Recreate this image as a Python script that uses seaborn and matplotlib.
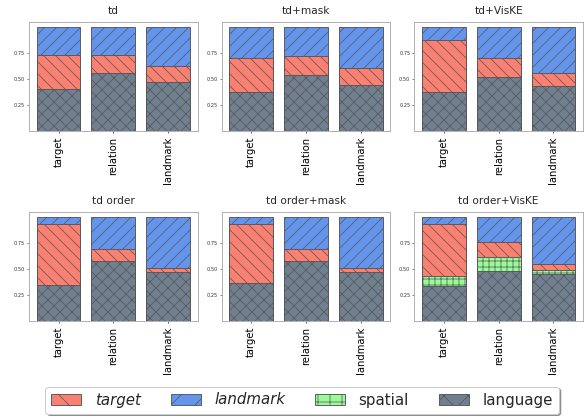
import matplotlib
matplotlib.use("Agg")
import matplotlib.pyplot as plt
from matplotlib.patches import Patch
import seaborn as sns
import pandas as pd

# panels and bar categories
panels = ["td", "td+mask", "td+VisKE", "td order", "td order+mask", "td order+VisKE"]
categories = ["target", "relation", "landmark"]

# share of each component per bar (landmark is the remainder up to 1)
language = [
    [0.41, 0.56, 0.47],
    [0.38, 0.54, 0.44],
    [0.38, 0.52, 0.43],
    [0.35, 0.58, 0.47],
    [0.37, 0.58, 0.47],
    [0.34, 0.48, 0.45],
]
spatial = [
    [0.0, 0.0, 0.0],
    [0.0, 0.0, 0.0],
    [0.0, 0.0, 0.0],
    [0.0, 0.0, 0.0],
    [0.0, 0.0, 0.0],
    [0.09, 0.14, 0.04],
]
target = [
    [0.32, 0.17, 0.16],
    [0.32, 0.18, 0.17],
    [0.50, 0.18, 0.13],
    [0.59, 0.11, 0.04],
    [0.57, 0.11, 0.04],
    [0.51, 0.14, 0.06],
]

colors = {"target": "salmon", "landmark": "cornflowerblue",
          "spatial": "palegreen", "language": "slategray"}
hatches = {"target": "\\\\", "landmark": "//", "spatial": "++", "language": "xx"}
legend_hatches = {"target": "\\", "landmark": "/", "spatial": "+", "language": "x"}
edge = "#555555"

sns.set_style("white", {"axes.edgecolor": "#a0a0a0", "xtick.bottom": True,
                        "ytick.left": True, "xtick.color": "black",
                        "ytick.color": "#333333"})
plt.rcParams["font.family"] = ["DejaVu Sans"]
plt.rcParams["hatch.linewidth"] = 0.7

fig, axes = plt.subplots(2, 3, figsize=(586 / 72, 417 / 72), dpi=72)
fig.subplots_adjust(left=0.0495, right=0.995, top=0.947, bottom=0.230,
                    wspace=0.142, hspace=0.743)

for i, ax in enumerate(axes.flat):
    lang = language[i]
    spat = [l + s for l, s in zip(lang, spatial[i])]
    targ = [s + t for s, t in zip(spat, target[i])]
    full = [1.0] * 3
    df = pd.DataFrame({"cat": categories, "landmark": full, "target": targ,
                       "spatial": spat, "language": lang})
    layers = ["landmark", "target", "spatial", "language"]
    if sum(spatial[i]) == 0:
        layers.remove("spatial")
    for layer in layers:
        sns.barplot(data=df, x="cat", y=layer, order=categories, ax=ax,
                    color=colors[layer], saturation=1, hatch=hatches[layer],
                    edgecolor=edge, linewidth=0.9, width=0.8)
    ax.set_xlim(-0.54, 2.54)
    ax.set_ylim(0, 1.05)
    ax.set_yticks([0.25, 0.5, 0.75])
    ax.set_yticklabels(["0.25", "0.50", "0.75"])
    ax.tick_params(axis="y", labelsize=5, length=2, width=0.6, pad=2)
    ax.tick_params(axis="x", labelsize=10, length=2, width=0.6, rotation=90)
    ax.set_xlabel("")
    ax.set_ylabel("")
    ax.set_title(panels[i], fontsize=10.5, pad=8)

names = ["target", "landmark", "spatial", "language"]
handles = [Patch(facecolor=colors[n], hatch=legend_hatches[n], edgecolor=edge,
                 linewidth=0.9) for n in names]
leg = fig.legend(handles, names, loc="center", bbox_to_anchor=(302 / 586, 1 - 400 / 417),
                 ncol=4, fontsize=15, shadow=True, fancybox=True,
                 handlelength=2.0, columnspacing=2.0, handletextpad=0.9)
leg.get_texts()[0].set_fontstyle("italic")
leg.get_texts()[1].set_fontstyle("italic")

fig.savefig("out.png", dpi=72)
